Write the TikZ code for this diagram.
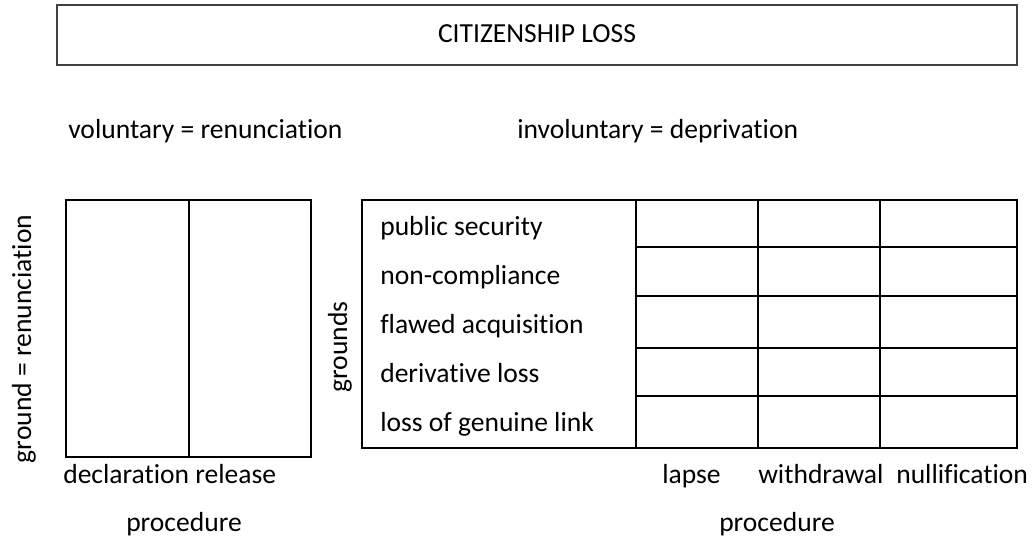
\documentclass[tikz,border=0pt]{standalone}
\usepackage{fontspec}
\setmainfont{Carlito}[Ligatures=NoCommon]

\begin{document}
\begin{tikzpicture}[
  x=0.025cm, y=-0.025cm,
  font=\fontsize{19.6pt}{23pt}\selectfont,
  frame/.style={draw=black!75, line width=1.1pt},
  grid/.style={draw=black, line width=1.2pt},
  lbl/.style={inner sep=0pt, anchor=base west},
  axis/.style={inner sep=0pt, rotate=90},
]

  \useasboundingbox (0,0) rectangle (1033,541);

  \def\lL{66}     % renunciation box, left
  \def\lM{189}    % declaration | release
  \def\lR{311}    % renunciation box, right
  \def\lT{200}
  \def\lB{457}

  \def\tL{362}    % deprivation table, left
  \def\tC{636}    % grounds column ends here
  \def\tR{1017}
  \def\tT{200}
  \def\tB{448}

  % --- Heading ---
  \draw[frame] (57,5) rectangle (1017,65);
  \node[inner sep=0pt, anchor=base] (title) at (537,42) {CITIZENSHIP LOSS};

  \node[lbl] (vol)   at (68,138)  {voluntary = renunciation};
  \node[lbl] (invol) at (517,138) {involuntary = deprivation};

  % --- Renunciation ---
  \draw[grid] (\lL,\lT) rectangle (\lR,\lB);
  \draw[grid] (\lM,\lT) -- (\lM,\lB);

  \node[axis] (ground) at (24,339) {ground = renunciation};
  \node[lbl] (decl) at (63,483) {declaration release};
  \node[lbl, anchor=base] (procL) at (184,531) {procedure};

  % --- Deprivation ---
  \draw[grid] (\tL,\tT) rectangle (\tR,\tB);
  \foreach \x in {\tC,758,880}
    \draw[grid] (\x,\tT) -- (\x,\tB);
  \foreach \y in {247,296,348,396}
    \draw[grid] (\tC,\y) -- (\tR,\y);

  \node[axis] (grounds) at (340,347) {grounds};
  \foreach \t [count=\i] in {public security, non-compliance,
      flawed acquisition, derivative loss, loss of genuine link}
    \node[lbl] (grd\i) at (380,{186+49*\i}) {\t};

  \node[lbl] (lapse)    at (662,483) {lapse};
  \node[lbl] (withdraw) at (758,483) {withdrawal};
  \node[lbl] (nullify)  at (896,483) {nullification};
  \node[lbl, anchor=base] (procR) at (777,531) {procedure};

\end{tikzpicture}
\end{document}
